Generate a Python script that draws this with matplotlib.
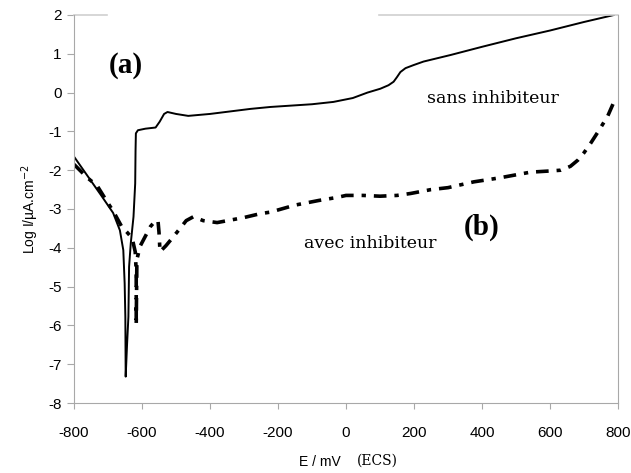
import numpy as np
import matplotlib
matplotlib.use('Agg')
import matplotlib.pyplot as plt

# (a) sans inhibiteur
e_sans = [-800, -760, -720, -685, -665, -655, -651, -649, -648, -644, -640, -638,
          -633, -625, -620, -619, -618, -612, -590, -560, -548, -535, -525, -500,
          -464, -400, -281, -222, -100, -37, 20, 63, 101, 125, 140, 150, 160, 175,
          199, 228, 308, 400, 500, 600, 700, 788]
log_sans = [-1.65, -2.15, -2.65, -3.1, -3.55, -4.06, -4.92, -5.78, -7.32, -6.5,
            -5.78, -4.49, -3.88, -3.2, -2.34, -1.5, -1.05, -0.97, -0.93, -0.9,
            -0.75, -0.55, -0.5, -0.55, -0.6, -0.55, -0.42, -0.37, -0.3, -0.24,
            -0.14, 0.0, 0.1, 0.19, 0.28, 0.4, 0.53, 0.63, 0.71, 0.8, 0.97, 1.18,
            1.4, 1.6, 1.82, 2.0]

# (b) avec inhibiteur
e_avec = [-800, -760, -732, -700, -685, -660, -644, -629, -620, -617, -617, -615,
          -605, -590, -575, -560, -553, -550, -547, -530, -511, -488, -470, -449,
          -420, -379, -300, -252, -222, -150, -80, -25, 0, 50, 100, 150, 190, 250,
          300, 376, 450, 543, 600, 632, 660, 682, 700, 720, 745, 770, 790]
log_avec = [-1.85, -2.2, -2.4, -2.85, -3.05, -3.45, -3.6, -3.75, -4.1, -4.6, -6.0,
            -4.3, -3.95, -3.7, -3.45, -3.3, -3.3, -3.6, -4.1, -3.95, -3.75, -3.5,
            -3.3, -3.2, -3.3, -3.35, -3.22, -3.12, -3.08, -2.9, -2.78, -2.7, -2.65,
            -2.65, -2.67, -2.65, -2.6, -2.5, -2.45, -2.3, -2.2, -2.05, -2.02, -2.0,
            -1.9, -1.74, -1.55, -1.3, -0.96, -0.6, -0.2]

x_ticks = [-800, -600, -400, -200, 0, 200, 400, 600, 800]
y_ticks = [-8, -7, -6, -5, -4, -3, -2, -1, 0, 1, 2]

sans = 'Liberation Sans'
serif = 'DejaVu Serif'
grey = '#a8a8a8'

fig = plt.figure(figsize=(6.31, 4.73), dpi=100)
ax = fig.add_axes([74 / 631, 1 - 403 / 473, 544 / 631, 388 / 473])

ax.plot(e_sans, log_sans, color='black', lw=1.4)
ax.plot(e_avec, log_avec, color='black', lw=2.6, dashes=[3.5, 2.2, 1.2, 2.2])

ax.set_xlim(-800, 800)
ax.set_ylim(-8, 2)
ax.set_xticks(x_ticks)
ax.set_yticks(y_ticks)
ax.set_xticklabels([str(v) for v in x_ticks], family=sans, fontsize=11)
ax.set_yticklabels([str(v) for v in y_ticks], family=sans, fontsize=11)
ax.tick_params(axis='x', direction='out', length=4.5, width=0.8, color=grey, pad=12)
ax.tick_params(axis='y', direction='out', length=5, width=0.8, color=grey, pad=4)

for side in ['left', 'bottom', 'right']:
    ax.spines[side].set_color(grey)
    ax.spines[side].set_linewidth(0.8)
ax.spines['top'].set_visible(False)
# top border only partly visible in the original
ax.axhline(2, xmin=0, xmax=0.06, color='#d0d0d0', lw=1.2, clip_on=False)
ax.axhline(2, xmin=0.56, xmax=1, color='#d0d0d0', lw=1.2, clip_on=False)

ax.set_ylabel('Log I/µA.cm$^{-2}$', family=sans, fontsize=10, labelpad=5)

fig.text(320 / 631, 1 - 462 / 473, 'E / mV', family=sans, fontsize=10,
         ha='center', va='center')
fig.text(377 / 631, 1 - 461 / 473, '(ECS)', family=serif, fontsize=10,
         ha='center', va='center')

ax.text(-647, 0.71, '(a)', family='Liberation Serif', fontweight='bold',
        fontsize=21, ha='center', va='center')
ax.text(400, -3.46, '(b)', family='Liberation Serif', fontweight='bold',
        fontsize=21, ha='center', va='center')
ax.text(431, -0.16, 'sans inhibiteur', family=serif, fontsize=12.5,
        ha='center', va='center')
ax.text(72, -3.9, 'avec inhibiteur', family=serif, fontsize=12.5,
        ha='center', va='center')

fig.savefig('out.png', dpi=100)
